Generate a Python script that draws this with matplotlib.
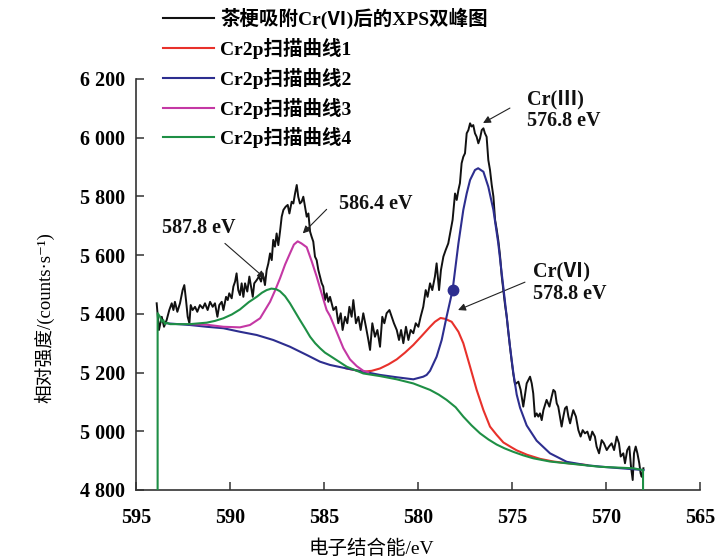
import matplotlib
matplotlib.use('Agg')
import matplotlib.pyplot as plt
from matplotlib.ticker import FuncFormatter
from matplotlib.lines import Line2D

plt.rcParams['font.family'] = ['Liberation Serif', 'Noto Sans CJK SC', 'DejaVu Sans']

# ---- measured spectrum (binding energy / eV, counts per second) ----
black_ev = [593.90, 593.78, 593.63, 593.51, 593.37, 593.23, 593.10, 593.01, 592.93, 592.80,
            592.66, 592.52, 592.43, 592.34, 592.25, 592.16, 592.09, 591.99, 591.86, 591.74,
            591.60, 591.45, 591.33, 591.19, 591.06, 590.92, 590.80, 590.67, 590.57, 590.44,
            590.35, 590.21, 590.12, 590.04, 589.91, 589.82, 589.73, 589.65, 589.56, 589.47,
            589.38, 589.29, 589.20, 589.08, 588.97, 588.88, 588.79, 588.71, 588.58, 588.46,
            588.35, 588.26, 588.14, 588.05, 587.96, 587.87, 587.78, 587.70, 587.61, 587.52,
            587.43, 587.34, 587.25, 587.16, 587.04, 586.93, 586.84, 586.72, 586.63, 586.54,
            586.45, 586.37, 586.28, 586.19, 586.10, 586.01, 585.92, 585.83, 585.74, 585.66,
            585.57, 585.48, 585.39, 585.30, 585.21, 585.12, 585.04, 584.95, 584.86, 584.77,
            584.68, 584.50, 584.36, 584.24, 584.11, 584.01, 583.88, 583.76, 583.65, 583.53,
            583.44, 583.30, 583.17, 583.05, 582.91, 582.77, 582.64, 582.55, 582.43, 582.29,
            582.16, 582.02, 581.90, 581.79, 581.67, 581.52, 581.40, 581.28, 581.13, 581.01,
            580.90, 580.78, 580.64, 580.51, 580.39, 580.25, 580.12, 579.98, 579.86, 579.72,
            579.59, 579.49, 579.36, 579.24, 579.10, 579.01, 578.88, 578.78, 578.65, 578.53,
            578.39, 578.26, 578.16, 578.03, 577.94, 577.85, 577.77, 577.68, 577.59, 577.50,
            577.41, 577.32, 577.23, 577.15, 577.06, 576.97, 576.88, 576.79, 576.70, 576.61,
            576.52, 576.44, 576.35, 576.26, 576.17, 576.08, 575.99, 575.90, 575.82, 575.73,
            575.64, 575.55, 575.46, 575.37, 575.28, 575.20, 575.11, 575.02, 574.93, 574.84,
            574.66, 574.54, 574.40, 574.22, 574.04, 573.95, 573.87, 573.78, 573.69, 573.60,
            573.51, 573.42, 573.33, 573.16, 573.01, 572.89, 572.80, 572.71, 572.62, 572.54,
            572.45, 572.36, 572.27, 572.18, 572.09, 572.00, 571.91, 571.83, 571.74, 571.60,
            571.47, 571.35, 571.24, 571.12, 570.99, 570.85, 570.73, 570.59, 570.50, 570.37,
            570.23, 570.11, 569.96, 569.84, 569.70, 569.57, 569.43, 569.31, 569.22, 569.08,
            568.99, 568.87, 568.76, 568.67, 568.58, 568.51, 568.42, 568.33, 568.23, 568.16,
            568.10, 568.01]
black_cps = [5436, 5345, 5390, 5356, 5379, 5413, 5436, 5413, 5441, 5407,
             5436, 5481, 5498, 5447, 5390, 5368, 5430, 5413, 5424, 5407,
             5430, 5419, 5436, 5413, 5441, 5424, 5436, 5390, 5430, 5441,
             5413, 5458, 5447, 5470, 5453, 5493, 5510, 5538, 5481, 5464,
             5504, 5458, 5504, 5476, 5527, 5493, 5458, 5504, 5515, 5527,
             5510, 5538, 5498, 5549, 5572, 5606, 5583, 5652, 5629, 5674,
             5634, 5680, 5731, 5754, 5765, 5771, 5742, 5782, 5776, 5810,
             5839, 5799, 5776, 5782, 5799, 5765, 5731, 5742, 5680, 5663,
             5646, 5595, 5583, 5549, 5527, 5504, 5493, 5447, 5470, 5441,
             5458, 5413, 5424, 5368, 5402, 5345, 5390, 5368, 5424, 5390,
             5447, 5368, 5390, 5345, 5402, 5356, 5311, 5277, 5368, 5322,
             5345, 5288, 5390, 5368, 5402, 5413, 5390, 5368, 5345, 5311,
             5345, 5300, 5356, 5311, 5345, 5334, 5368, 5356, 5390, 5424,
             5481, 5458, 5504, 5481, 5527, 5572, 5481, 5549, 5595, 5617,
             5640, 5686, 5720, 5810, 5788, 5822, 5845, 5913, 5935, 5947,
             6015, 6026, 6049, 6038, 6043, 6015, 6003, 5981, 5998, 6026,
             6032, 6015, 6003, 5924, 5890, 5840, 5800, 5720, 5690, 5651,
             5600, 5530, 5480, 5430, 5390, 5340, 5290, 5240, 5195, 5160,
             5169, 5141, 5084, 5163, 5186, 5163, 5129, 5050, 5061, 5050,
             5061, 5038, 5072, 5107, 5084, 5118, 5141, 5135, 5095, 5084,
             5050, 5016, 5050, 5078, 5084, 5050, 5027, 5050, 5072, 5050,
             5004, 4982, 5004, 4993, 4999, 4970, 4999, 4982, 4948, 4925,
             4970, 4959, 4936, 4948, 4959, 4936, 4982, 4959, 4914, 4925,
             4891, 4936, 4948, 4879, 4834, 4925, 4948, 4925, 4891, 4857,
             4845, 4874]

# ---- fitted Cr2p components ----
red_ev = [583.80, 582.91, 582.46, 582.02, 581.57, 581.13, 580.69, 580.25, 579.80, 579.36,
          579.10, 578.80, 578.56, 578.21, 577.85, 577.59, 577.23, 576.88, 576.52, 576.17,
          575.82, 575.46, 575.02, 574.75, 574.20, 573.50, 572.80, 572.00, 571.00]
red_cps = [5214, 5203, 5206, 5214, 5228, 5245, 5268, 5294, 5325, 5356,
           5373, 5386, 5383, 5373, 5339, 5300, 5220, 5141, 5072, 5016,
           4988, 4962, 4945, 4935, 4920, 4906, 4897, 4891, 4885]

blue_ev = [593.40, 592.13, 591.24, 590.35, 589.47, 588.58, 587.70, 586.81, 585.92, 585.21,
           584.68, 583.79, 582.91, 582.02, 581.13, 580.25, 579.72, 579.54, 579.36, 579.01,
           578.74, 578.48, 578.16, 577.85, 577.59, 577.41, 577.23, 576.97, 576.80, 576.52,
           576.26, 575.99, 575.73, 575.46, 575.28, 575.11, 574.93, 574.75, 574.57, 574.22,
           573.69, 572.98, 572.09, 571.00, 570.00, 569.00, 568.00]
blue_cps = [5368, 5362, 5356, 5351, 5339, 5328, 5311, 5288, 5260, 5237,
            5226, 5214, 5203, 5192, 5184, 5177, 5186, 5192, 5206, 5254,
            5311, 5390, 5481, 5640, 5754, 5810, 5856, 5890, 5896, 5884,
            5833, 5754, 5640, 5490, 5390, 5290, 5200, 5125, 5080, 5020,
            4968, 4925, 4896, 4884, 4878, 4873, 4868]

mag_ev = [592.13, 591.24, 590.35, 589.47, 588.94, 588.40, 587.87, 587.60, 587.34, 587.07,
          586.81, 586.60, 586.40, 586.20, 585.92, 585.66, 585.39, 585.12, 584.86, 584.68,
          584.33, 583.97, 583.62, 583.26, 582.91, 582.64]
mag_cps = [5365, 5363, 5356, 5354, 5362, 5385, 5441, 5480, 5521, 5568,
           5606, 5636, 5647, 5640, 5627, 5580, 5527, 5468, 5413, 5393,
           5339, 5283, 5245, 5222, 5206, 5201]

green_ev = [593.85, 593.85, 593.72, 593.63, 593.55, 593.46, 593.37, 593.19, 592.13, 591.24,
            590.80, 590.35, 589.90, 589.47, 589.00, 588.58, 588.30, 588.05, 587.80, 587.55,
            587.34, 587.07, 586.81, 586.55, 586.28, 586.00, 585.74, 585.47, 585.21, 584.95,
            584.68, 584.20, 583.79, 582.91, 582.02, 581.13, 580.25, 579.36, 578.90, 578.48,
            578.00, 577.59, 577.15, 576.70, 576.25, 575.82, 575.40, 574.93, 574.40, 573.87,
            572.98, 572.09, 570.32, 568.55, 568.03, 568.03]
green_cps = [4800, 5402, 5390, 5373, 5379, 5365, 5370, 5365, 5365, 5370,
             5376, 5385, 5398, 5415, 5440, 5458, 5472, 5481, 5486, 5484,
             5477, 5460, 5436, 5408, 5379, 5350, 5322, 5300, 5283, 5268,
             5257, 5237, 5220, 5197, 5188, 5177, 5163, 5141, 5125, 5107,
             5082, 5050, 5020, 4993, 4972, 4955, 4942, 4930, 4918, 4908,
             4897, 4891, 4879, 4874, 4868, 4800]

# marked point on the Cr(III) component
dot_ev = 578.16
dot_cps = 5481

peak_ev = [587.8, 586.4, 578.8, 576.8]

x_ticks = [595, 590, 585, 580, 575, 570, 565]
y_ticks = [4800, 5000, 5200, 5400, 5600, 5800, 6000, 6200]

legend_labels = ['茶梗吸附Cr(Ⅵ)后的XPS双峰图', 'Cr2p扫描曲线1', 'Cr2p扫描曲线2',
                 'Cr2p扫描曲线3', 'Cr2p扫描曲线4']

c_black = '#111111'
c_red = '#e8312b'
c_blue = '#2d2e8f'
c_mag = '#c438a4'
c_green = '#1e8f45'

fig = plt.figure(figsize=(7.18, 5.57), dpi=100)
ax = fig.add_axes([136 / 718, 1 - 490 / 557, 564 / 718, 411 / 557])

lw = 1.5
ax.plot(black_ev, black_cps, color=c_black, lw=1.4, zorder=2)
ax.plot(red_ev, red_cps, color=c_red, lw=lw, zorder=3)
ax.plot(blue_ev, blue_cps, color=c_blue, lw=lw, zorder=4)
ax.plot(mag_ev, mag_cps, color=c_mag, lw=lw, zorder=5)
ax.plot(green_ev, green_cps, color=c_green, lw=lw, zorder=6)
ax.plot([dot_ev], [dot_cps], 'o', color=c_blue, ms=7.5, zorder=7)

ax.set_xlim(595, 565)
ax.set_ylim(4800, 6200)
ax.set_xticks(x_ticks)
ax.set_yticks(y_ticks)
ax.yaxis.set_major_formatter(FuncFormatter(lambda v, p: f'{int(v):,}'.replace(',', ' ')))

for side in ('top', 'right'):
    ax.spines[side].set_visible(False)
for side in ('left', 'bottom'):
    ax.spines[side].set_color('#333333')
    ax.spines[side].set_linewidth(1.2)

ax.tick_params(direction='in', length=6, width=1.1, color='#333333', labelsize=14.5)
ax.tick_params(axis='x', pad=13)
ax.tick_params(axis='y', pad=8)
for lbl in ax.get_xticklabels() + ax.get_yticklabels():
    lbl.set_fontweight('bold')

ax.set_xlabel('电子结合能/eV', fontsize=14)
ax.xaxis.set_label_coords(0.418, -0.12)
ax.set_ylabel('相对强度/(counts·s⁻¹)', fontsize=13.5)
ax.yaxis.set_label_coords(-0.145, 0.42)

handles = [Line2D([], [], color=c, lw=lw) for c in (c_black, c_red, c_blue, c_mag, c_green)]
ax.legend(handles, legend_labels, loc='upper left',
          bbox_to_anchor=(163 / 718, 1 - 8 / 557), bbox_transform=fig.transFigure,
          frameon=False, prop={'size': 14, 'weight': 'bold'}, handlelength=2.6,
          handletextpad=0.35, labelspacing=0.45, borderpad=0, borderaxespad=0)

arrow = dict(arrowstyle='-|>', color='#222222', lw=0.8, mutation_scale=11,
             shrinkA=0, shrinkB=0)
txt = dict(fontsize=14.5, fontweight='bold', color='#111111')

# 587.8 eV
ax.text(591.65, 5694, f'{peak_ev[0]:.1f} eV', ha='center', va='center', **txt)
ax.annotate('', xy=(588.14, 5521), xytext=(590.27, 5640), arrowprops=arrow)
# 586.4 eV
ax.text(582.24, 5774, f'{peak_ev[1]:.1f} eV', ha='center', va='center', **txt)
ax.annotate('', xy=(586.13, 5674), xytext=(584.86, 5756), arrowprops=arrow)
# Cr(VI) 578.8 eV
ax.text(573.88, 5505, f'Cr(Ⅵ)\n{peak_ev[2]:.1f} eV', ha='left', va='center',
        linespacing=1.15, **txt)
ax.annotate('', xy=(577.87, 5413), xytext=(574.31, 5508), arrowprops=arrow)
# Cr(III) 576.8 eV
ax.text(574.20, 6094, f'Cr(Ⅲ)\n{peak_ev[3]:.1f} eV', ha='left', va='center',
        linespacing=1.15, **txt)
ax.annotate('', xy=(576.54, 6050), xytext=(575.11, 6101), arrowprops=arrow)

fig.savefig('out.png', dpi=100)
